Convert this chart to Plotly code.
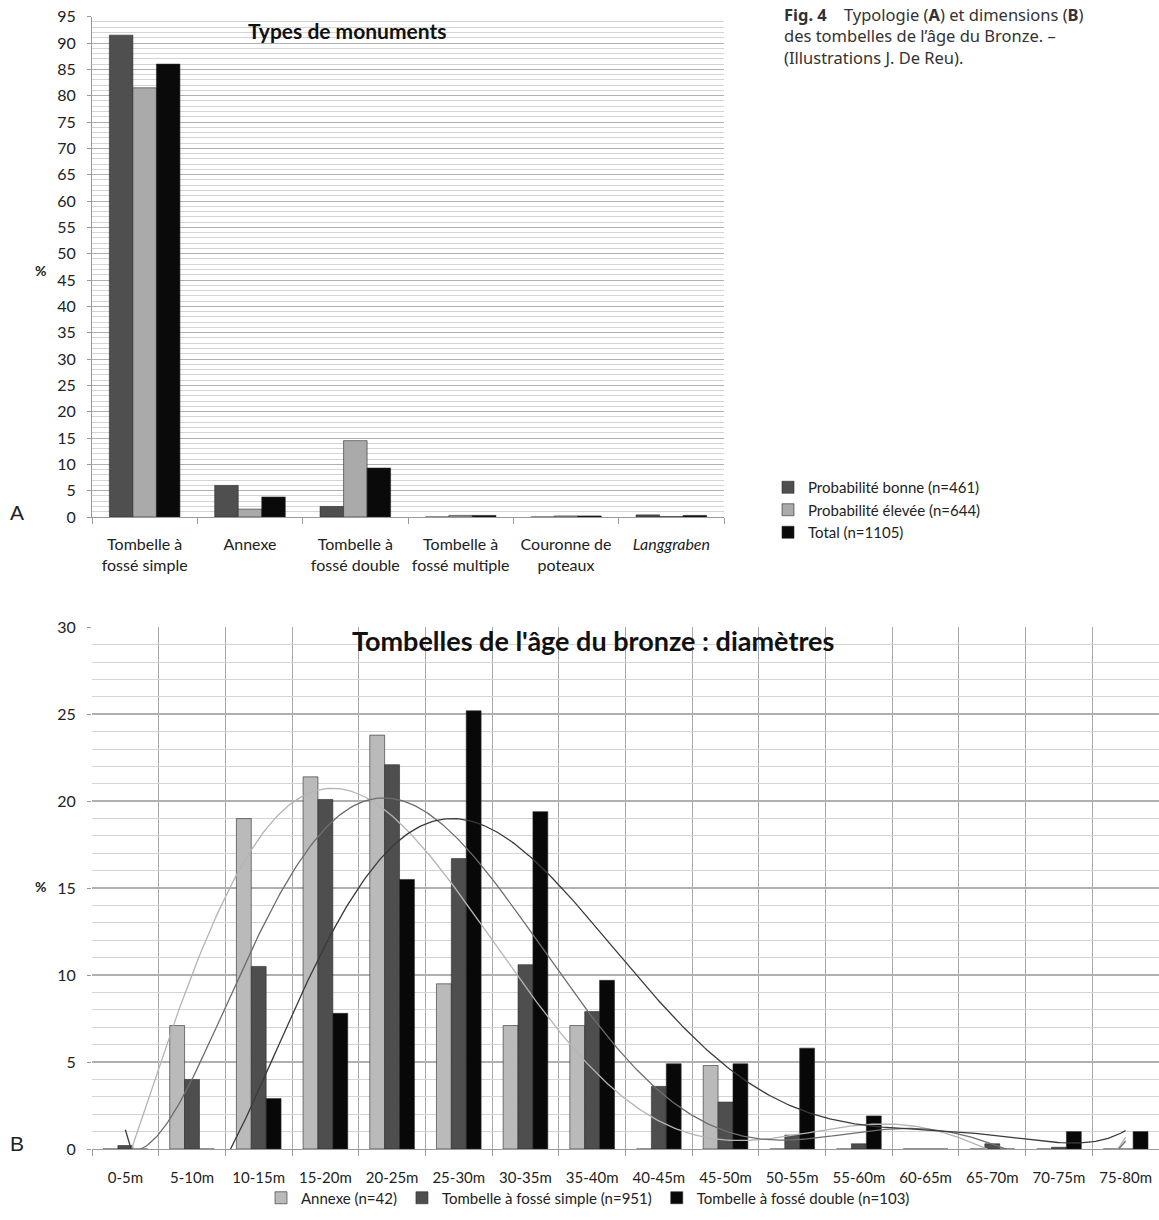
import numpy as np
import plotly.graph_objects as go

# ---------------- data: chart A ----------------
types_labels = ["Tombelle à<br>fossé simple", "Annexe", "Tombelle à<br>fossé double",
                "Tombelle à<br>fossé multiple", "Couronne de<br>poteaux", "<i>Langgraben</i>"]
prob_bonne = [91.5, 6.0, 2.0, 0.0, 0.0, 0.4]
prob_elevee = [81.5, 1.5, 14.5, 0.3, 0.2, 0.1]
total_a = [86.0, 3.8, 9.3, 0.3, 0.2, 0.3]
names_a = ["Probabilité bonne (n=461)", "Probabilité élevée (n=644)", "Total (n=1105)"]

# ---------------- data: chart B ----------------
diam_labels = ["0-5m", "5-10m", "10-15m", "15-20m", "20-25m", "25-30m", "30-35m", "35-40m",
               "40-45m", "45-50m", "50-55m", "55-60m", "60-65m", "65-70m", "70-75m", "75-80m"]
annexe = [0.0, 7.1, 19.0, 21.4, 23.8, 9.5, 7.1, 7.1, 0.0, 4.8, 0.0, 0.0, 0.0, 0.0, 0.0, 0.0]
simple = [0.2, 4.0, 10.5, 20.1, 22.1, 16.7, 10.6, 7.9, 3.6, 2.7, 0.8, 0.3, 0.0, 0.3, 0.1, 0.0]
double = [0.0, 0.0, 2.9, 7.8, 15.5, 25.2, 19.4, 9.7, 4.9, 4.9, 5.8, 1.9, 0.0, 0.0, 1.0, 1.0]
names_b = ["Annexe (n=42)", "Tombelle à fossé simple (n=951)", "Tombelle à fossé double (n=103)"]

caption = ("<b>Fig. 4</b>    Typologie (<b>A</b>) et dimensions (<b>B</b>)<br>"
           "des tombelles de l’âge du Bronze. –<br>"
           "(Illustrations J. De Reu).")

W, H = 1159, 1220
def px(x):
    return x / W
def py(y):
    return 1 - y / H

FONT = "Lato"
fig = go.Figure()

# chart A bars
xa = list(range(1, len(types_labels) + 1))
cols_a = ["#4f4f4f", "#aaaaaa", "#0a0a0a"]
for vals, nm, c in zip([prob_bonne, prob_elevee, total_a], names_a, cols_a):
    fig.add_trace(go.Bar(x=xa, y=vals, name=nm, marker=dict(color=c, line=dict(color="#2a2a2a", width=0.6)),
                         xaxis="x", yaxis="y", legend="legend"))

# chart B bars
xb = np.arange(1, len(diam_labels) + 1)
cols_b = ["#bababa", "#4e4e4e", "#080808"]
line_cols = ["#b4b4b4", "#6e6e6e", "#3a3a3a"]
xs = np.linspace(1, len(diam_labels), 400)
for vals, nm, c in zip([annexe, simple, double], names_b, cols_b):
    fig.add_trace(go.Bar(x=xb, y=vals, name=nm, marker=dict(color=c, line=dict(color="#2a2a2a", width=0.6)),
                         xaxis="x2", yaxis="y2", legend="legend2"))
for vals, lc in zip([annexe, simple, double], line_cols):
    coef = np.polyfit(xb, vals, 6)
    fig.add_trace(go.Scatter(x=xs, y=np.polyval(coef, xs), mode="lines",
                             line=dict(color=lc, width=1.3), showlegend=False,
                             hoverinfo="skip", xaxis="x2", yaxis="y2"))

grid_major = "#b0b0b0"
grid_minor = "#d4d4d4"
TXT = "#222"

fig.update_layout(
    width=W, height=H, margin=dict(l=0, r=0, t=0, b=0, autoexpand=False),
    paper_bgcolor="white", plot_bgcolor="white",
    barmode="group", bargap=0.33, bargroupgap=0,
    font=dict(family=FONT, color=TXT),
    xaxis=dict(domain=[px(92), px(724)], anchor="y", range=[0.5, 6.5],
               tickmode="array", tickvals=xa, ticktext=types_labels, ticks="",
               showgrid=False, showline=True, linecolor="#9a9a9a", linewidth=1,
               tickfont=dict(family=FONT, size=16, color=TXT), ticklabelstandoff=13,
               minor=dict(tickmode="array", tickvals=[0.5 + i for i in range(7)], ticks="outside",
                          ticklen=6, tickcolor="#9a9a9a", showgrid=False),
               zeroline=False),
    yaxis=dict(domain=[py(517), py(16.7)], anchor="x", range=[0, 95], dtick=5,
               showgrid=True, gridcolor=grid_major, gridwidth=1,
               minor=dict(dtick=1, showgrid=True, gridcolor=grid_minor, gridwidth=1),
               showline=True, linecolor="#9a9a9a", ticks="outside", ticklen=4, tickcolor="#9a9a9a",
               tickfont=dict(family=FONT, size=16, color=TXT), ticklabelstandoff=8, zeroline=False),
    xaxis2=dict(domain=[px(92), 1.0], anchor="y2", range=[0.5, 16.5],
                tickmode="array", tickvals=list(xb), ticktext=diam_labels, ticks="",
                showgrid=False, showline=True, linecolor="#9a9a9a",
                tickfont=dict(family=FONT, size=15, color=TXT), ticklabelstandoff=15,
                minor=dict(tickmode="array", tickvals=[0.5 + i for i in range(17)], ticks="outside",
                           ticklen=6, tickcolor="#9a9a9a", showgrid=True, gridcolor="#a8a8a8", gridwidth=1),
                zeroline=False),
    yaxis2=dict(domain=[py(1149), py(627.3)], anchor="x2", range=[0, 30], dtick=5,
                showgrid=True, gridcolor=grid_major, gridwidth=1.5,
                minor=dict(dtick=1, showgrid=True, gridcolor=grid_minor, gridwidth=1),
                showline=False, ticks="outside", ticklen=4, tickcolor="#9a9a9a",
                tickfont=dict(family=FONT, size=16, color=TXT), ticklabelstandoff=8, zeroline=False),
    legend=dict(x=px(768), y=py(510), xanchor="left", yanchor="middle",
                font=dict(family=FONT, size=15, color=TXT), bgcolor="rgba(0,0,0,0)",
                itemwidth=30, tracegroupgap=0, traceorder="normal"),
    legend2=dict(orientation="h", x=px(588), y=py(1198), xanchor="center", yanchor="middle",
                 font=dict(family=FONT, size=15, color=TXT), bgcolor="rgba(0,0,0,0)",
                 itemwidth=30, traceorder="normal"),
)

ann = [
    dict(text="<b>Types de monuments</b>", x=px(347), y=py(30), font=dict(family=FONT, size=21, color="#111")),
    dict(text="<b>Tombelles de l'âge du bronze : diamètres</b>", x=px(593), y=py(640),
         font=dict(family=FONT, size=27, color="#111")),
    dict(text="<b>%</b>", x=px(40), y=py(270), font=dict(family=FONT, size=14, color=TXT)),
    dict(text="<b>%</b>", x=px(40), y=py(887), font=dict(family=FONT, size=14, color=TXT)),
    dict(text="A", x=px(17), y=py(512), font=dict(family="Liberation Sans", size=21, color=TXT)),
    dict(text="B", x=px(17), y=py(1143), font=dict(family="Liberation Sans", size=21, color=TXT)),
]
for a in ann:
    fig.add_annotation(xref="paper", yref="paper", showarrow=False, xanchor="center", yanchor="middle", **a)

fig.add_annotation(xref="paper", yref="paper", x=px(782), y=py(1), xanchor="left", yanchor="top",
                   showarrow=False, align="left", text=caption,
                   font=dict(family="Noto Sans", size=16.5, color="#333"))

fig.write_html("out.html", config={"displayModeBar": False},
               post_script="document.body.style.margin='0';document.documentElement.style.overflow='hidden';")
